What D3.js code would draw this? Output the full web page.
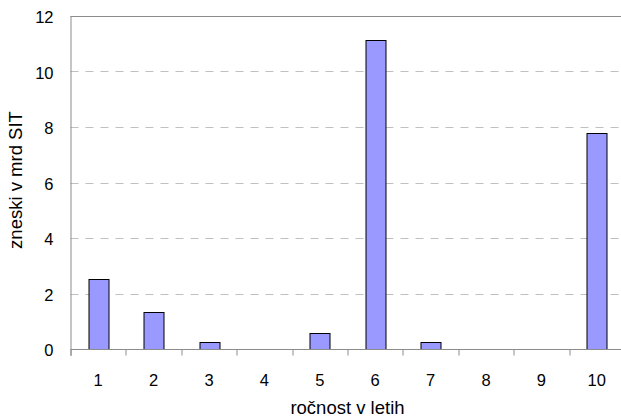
<!DOCTYPE html>
<html>
<head>
<meta charset="utf-8">
<script src="https://cdn.jsdelivr.net/npm/d3@7"></script>
<style>
  body { margin: 0; background: #fff; }
  svg { display: block; font-family: "Liberation Sans", Arial, sans-serif; }
</style>
</head>
<body>
<svg width="621" height="419"></svg>
<script>
//  chart data
var categories = ["1", "2", "3", "4", "5", "6", "7", "8", "9", "10"];
var values = [2.53, 1.33, 0.27, 0, 0.59, 11.13, 0.27, 0, 0, 7.79];
var yTicks = [0, 2, 4, 6, 8, 10, 12];

var xTitle = "ročnost v letih";
var yTitle = "zneski v mrd SIT";

//  svg selection and sizing
var svg = d3.select("svg");
var margin = { left: 70.5, top: 16, right: -3.5, bottom: 70 };
var width = +svg.attr("width");
var height = +svg.attr("height");
var plotW = width - margin.left - margin.right;
var plotH = 349 - margin.top;

var g = svg.append("g")
  .attr("transform", "translate(" + margin.left + "," + margin.top + ")");

//  scales
var x = d3.scaleBand()
  .domain(categories)
  .range([0, plotW])
  .paddingInner(0.64)
  .paddingOuter(0.32);

var y = d3.scaleLinear()
  .domain([0, 12])
  .range([plotH, 0]);

//  dashed gridlines
g.append("g").selectAll("line")
  .data(yTicks.filter(function(d) { return d > 0 && d < 12; }))
  .enter().append("line")
    .attr("x1", 0)
    .attr("x2", plotW)
    .attr("y1", function(d) { return Math.round(y(d)) + 0.5; })
    .attr("y2", function(d) { return Math.round(y(d)) + 0.5; })
    .attr("stroke", "#c0c0c0")
    .attr("stroke-dasharray", "8,7");

//  top border of plot area
g.append("line")
  .attr("x1", 0).attr("x2", plotW)
  .attr("y1", 0.5).attr("y2", 0.5)
  .attr("stroke", "#8c8c8c");

//  bars
g.append("g").selectAll("rect")
  .data(values)
  .enter().append("rect")
    .attr("x", function(d, i) { return Math.round(x(categories[i])) + 0.5; })
    .attr("y", function(d) { return Math.round(y(d)) + 0.5; })
    .attr("width", Math.round(x.bandwidth()))
    .attr("height", function(d) { return Math.round(y(0)) - Math.round(y(d)); })
    .attr("fill", "#9999ff")
    .attr("stroke", function(d) { return d > 0 ? "#000" : "none"; })
    .attr("stroke-width", 1);

//  x axis: ticks between categories
var step = x.step();
var xAxis = g.append("g").attr("transform", "translate(0," + (Math.round(plotH) + 0.5) + ")");
xAxis.append("line")
  .attr("x1", 0).attr("x2", plotW)
  .attr("stroke", "#8c8c8c");
xAxis.selectAll(".tick")
  .data(d3.range(0, categories.length + 1))
  .enter().append("line")
    .attr("class", "tick")
    .attr("x1", function(d) { return Math.round(d * step) + 0.5; })
    .attr("x2", function(d) { return Math.round(d * step) + 0.5; })
    .attr("y1", 0)
    .attr("y2", 6)
    .attr("stroke", "#8c8c8c");
xAxis.selectAll("text")
  .data(categories)
  .enter().append("text")
    .attr("x", function(d) { return x(d) + x.bandwidth() / 2; })
    .attr("y", 36)
    .attr("text-anchor", "middle")
    .attr("font-size", "16.5px")
    .attr("fill", "#000")
    .text(function(d) { return d; });

//  y axis
var yAxis = g.append("g");
yAxis.append("line")
  .attr("x1", 0.5).attr("x2", 0.5)
  .attr("y1", 0).attr("y2", Math.round(plotH) + 7)
  .attr("stroke", "#8c8c8c");
yAxis.selectAll("text")
  .data(yTicks)
  .enter().append("text")
    .attr("x", -17)
    .attr("y", function(d) { return y(d) + 7; })
    .attr("text-anchor", "end")
    .attr("font-size", "16.5px")
    .attr("fill", "#000")
    .text(function(d) { return d; });

//  axis titles
svg.append("text")
  .attr("x", 347.5)
  .attr("y", 414)
  .attr("text-anchor", "middle")
  .attr("font-size", "18.5px")
  .text(xTitle);

svg.append("text")
  .attr("transform", "translate(22,180) rotate(-90)")
  .attr("text-anchor", "middle")
  .attr("font-size", "18.5px")
  .text(yTitle);
</script>
</body>
</html>
